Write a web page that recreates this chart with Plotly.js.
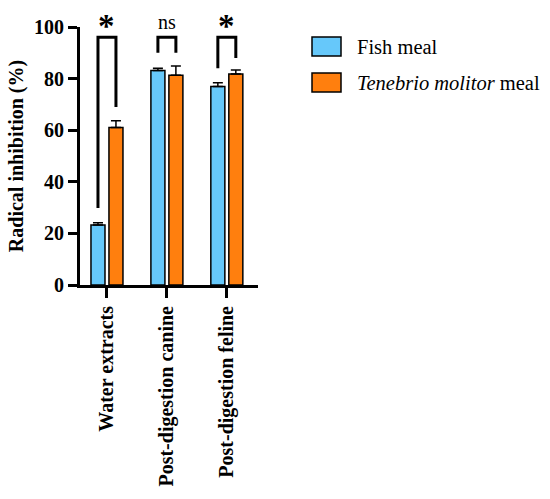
<!DOCTYPE html>
<html>
<head>
<meta charset="utf-8">
<script src="https://cdn.plot.ly/plotly-3.0.1.min.js"></script>
<style>html,body{margin:0;padding:0;background:#fff;}#chart{width:550px;height:499px;}</style>
</head>
<body>
<div id="chart"></div>
<script>
const categories = ['Water extracts', 'Post-digestion canine', 'Post-digestion feline'];
const fishMeal = [23.3, 83.1, 76.9];
const fishMealErr = [0.8, 0.9, 1.5];
const tenebrioMeal = [61.0, 81.3, 81.8];
const tenebrioMealErr = [2.7, 3.6, 1.5];
const yTicks = [0, 20, 40, 60, 80, 100];
const significance = ['*', 'ns', '*'];
const bracketTop = [96, 96, 96];
const bracketLeftEnd = [29.8, 90, 84];
const bracketRightEnd = [69, 90, 88];
const seriesNames = ['Fish meal', '<i>Tenebrio molitor</i> meal'];
const seriesColors = ['#66C8FA', '#FF7F0E'];

const W = 550, H = 499;
const M = {l: 80, r: 292, t: 27, b: 214};
const plotW = W - M.l - M.r, plotH = H - M.t - M.b;
const px2x = p => (p - M.l) / plotW;
const px2y = p => (H - M.b - p) / plotH;
const FONT = 'Liberation Serif, Times New Roman, serif';

const bargap = 0.4;
const slot = (1 - bargap) / 2;

const traces = [
  {type: 'bar', x: categories, y: fishMeal, name: seriesNames[0],
   marker: {color: seriesColors[0], line: {color: '#000', width: 1.5}},
   error_y: {type: 'data', symmetric: false, array: fishMealErr, arrayminus: fishMealErr.map(() => 0),
             color: '#000', thickness: 1.5, width: 5},
   showlegend: false},
  {type: 'bar', x: categories, y: tenebrioMeal, name: seriesNames[1],
   marker: {color: seriesColors[1], line: {color: '#000', width: 1.5}},
   error_y: {type: 'data', symmetric: false, array: tenebrioMealErr, arrayminus: tenebrioMealErr.map(() => 0),
             color: '#000', thickness: 1.5, width: 5},
   showlegend: false}
];

const shapes = [];
const annotations = [];
categories.forEach((c, i) => {
  const xl = i - slot / 2, xr = i + slot / 2;
  shapes.push({type: 'path', xref: 'x', yref: 'y',
    path: `M ${xl},${bracketLeftEnd[i]} L ${xl},${bracketTop[i]} L ${xr},${bracketTop[i]} L ${xr},${bracketRightEnd[i]}`,
    line: {color: '#000', width: 3}});
  const isStar = significance[i] === '*';
  annotations.push({xref: 'x', yref: 'y', x: i, y: bracketTop[i], yanchor: 'bottom',
    yshift: isStar ? -9 : 2, text: isStar ? '<b>*</b>' : significance[i], showarrow: false,
    font: {family: FONT, size: isStar ? 33 : 20, color: '#000'}});
});

// custom legend
const legendRows = [46.5, 82.5];
seriesNames.forEach((n, i) => {
  const cy = legendRows[i];
  shapes.push({type: 'rect', xref: 'paper', yref: 'paper',
    x0: px2x(312), x1: px2x(341), y0: px2y(cy - 9.5), y1: px2y(cy + 9.5),
    fillcolor: seriesColors[i], line: {color: '#000', width: 1.5}});
  annotations.push({xref: 'paper', yref: 'paper', x: px2x(355), y: px2y(cy),
    xanchor: 'left', yanchor: 'middle', text: n, showarrow: false,
    font: {family: FONT, size: 20.5, color: '#000'}});
});

const layout = {
  width: W, height: H,
  margin: M,
  paper_bgcolor: '#fff', plot_bgcolor: '#fff',
  barmode: 'group', bargap: bargap, bargroupgap: 0.22,
  font: {family: FONT, color: '#000'},
  xaxis: {type: 'category', range: [-0.45, 2.52], showline: true, linecolor: '#000', linewidth: 3,
    ticks: 'outside', ticklen: 10, tickwidth: 3, tickcolor: '#000', tickangle: -90,
    tickfont: {family: FONT, size: 20, color: '#000', weight: 'bold'}, showgrid: false, zeroline: false,
    fixedrange: true},
  yaxis: {range: [0, 100], tickvals: yTicks, ticktext: yTicks.map(String), showline: true, linecolor: '#000', linewidth: 3,
    ticks: 'outside', ticklen: 9, tickwidth: 3, tickcolor: '#000',
    tickfont: {family: FONT, size: 20, color: '#000', weight: 'bold'}, showgrid: false, zeroline: false,
    title: {text: '<b>Radical inhibition (%)</b>', font: {family: FONT, size: 20, color: '#000'}, standoff: 6},
    fixedrange: true},
  shapes: shapes,
  annotations: annotations
};

Plotly.newPlot('chart', traces, layout, {displayModeBar: false, staticPlot: true});
</script>
</body>
</html>
